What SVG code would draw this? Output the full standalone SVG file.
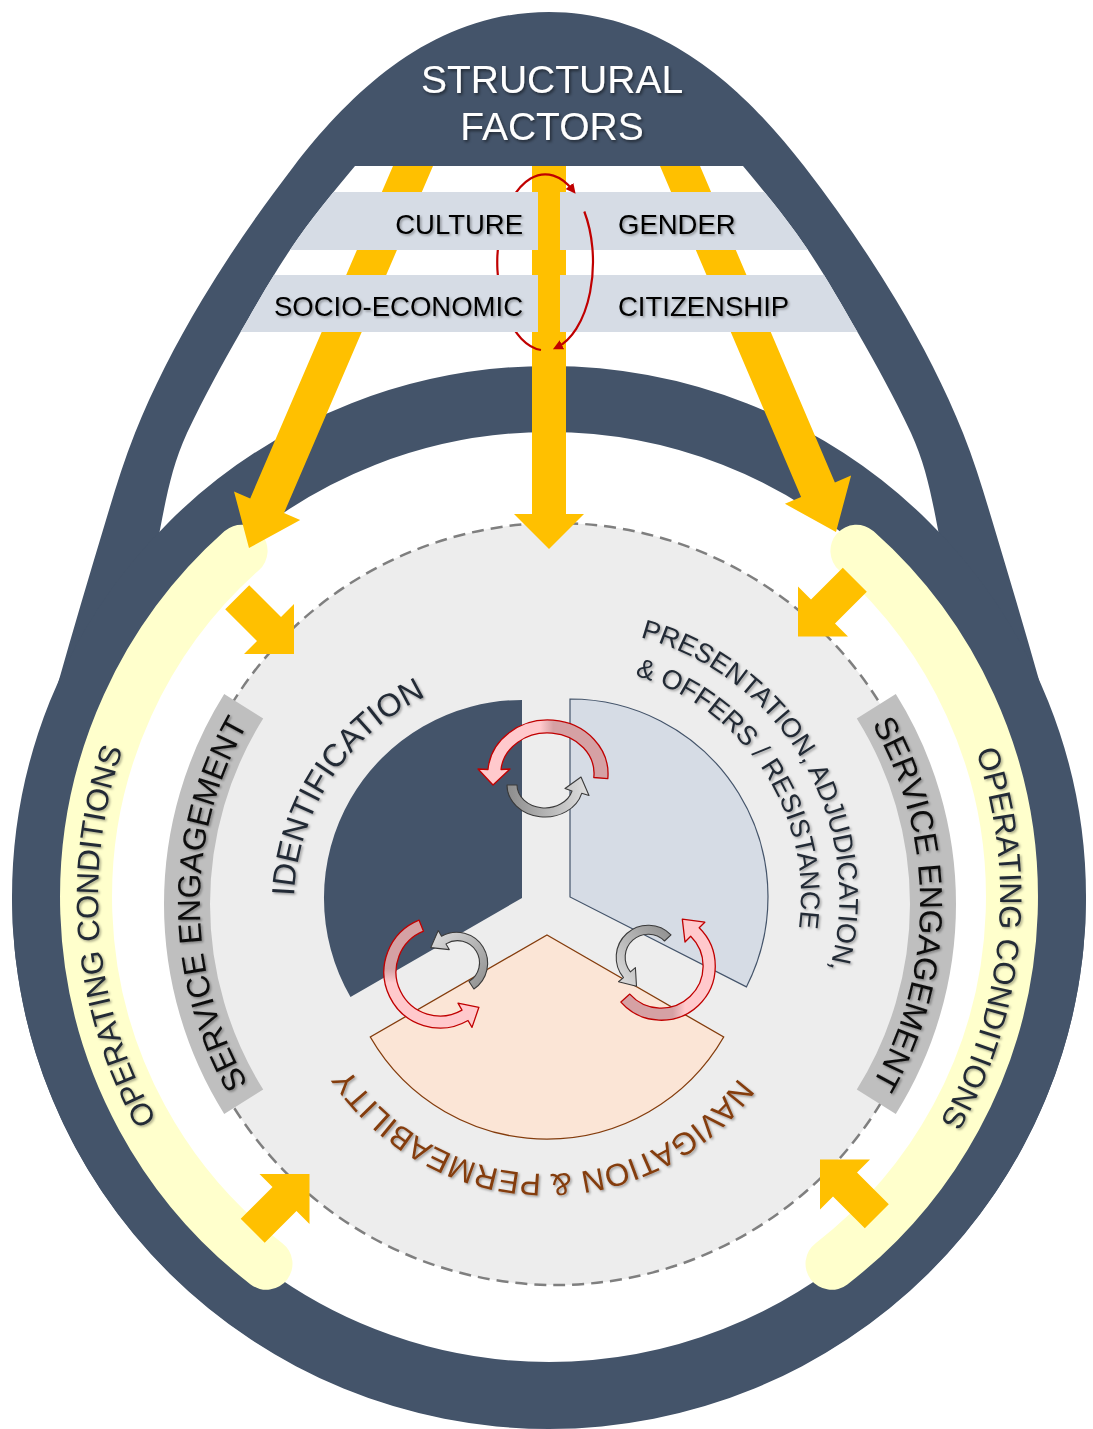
<svg xmlns="http://www.w3.org/2000/svg" width="1093" height="1429" viewBox="0 0 1093 1429">
<defs>
<style>
.f{font-family:'Liberation Sans',Arial,Helvetica,sans-serif}
.dark{fill:#44546A}
.y{fill:#FFC000}
.bar{fill:#D6DCE5}
.bt{font-size:27.5px;fill:#000}
.ring{fill:#fff;stroke:#44546A;stroke-width:66}
.oc{fill:none;stroke:#FFFFCC;stroke-width:52;stroke-linecap:round}
.se{fill:none;stroke:#BFBFBF;stroke-width:46}
.t-se{font-size:32px;fill:#0D0D0D}
.t-oc{font-size:31px;fill:#222A35}
.t-sec{fill:#222A35}
.red{stroke:#C00000;stroke-width:1.3;stroke-linejoin:round}
.gry{stroke:#3A3A3A;stroke-width:1.1;stroke-linejoin:round}
.loop{fill:none;stroke:#C00000;stroke-width:2.2}
</style>
<filter id="sh" x="-10%" y="-10%" width="120%" height="130%"><feDropShadow dx="1.5" dy="1.5" stdDeviation="1.2" flood-color="#000" flood-opacity="0.35"/></filter>
<filter id="shw" x="-10%" y="-10%" width="120%" height="130%"><feDropShadow dx="1.5" dy="2" stdDeviation="1.5" flood-color="#000" flood-opacity="0.5"/></filter>
<clipPath id="innerClip"><path d="M355,166 L743,166 C763,190 788,220 808,250 C828,280 840,302 858,333 C878,368 893,395 911,433 C928,470 933,505 941,545 L549,900 L157,545 C165,505 170,470 187,433 C205,395 220,368 240,333 C258,302 270,280 290,250 C310,220 335,190 355,166 Z"/></clipPath>
<marker id="mr" viewBox="0 0 10 10" refX="5" refY="5" markerWidth="10" markerHeight="10" markerUnits="userSpaceOnUse" orient="auto"><path d="M0,0 L10,5 L0,10 Z" fill="#C00000"/></marker>
<linearGradient id="gRedTop" x1="0" y1="0" x2="1" y2="0"><stop offset="0" stop-color="#FFC9CC"/><stop offset=".48" stop-color="#FFC9CC"/><stop offset=".58" stop-color="#D5A1A4"/><stop offset="1" stop-color="#D5A1A4"/></linearGradient>
<linearGradient id="gRedLL" x1="0" y1="0" x2="0" y2="1"><stop offset="0" stop-color="#D5A1A4"/><stop offset=".45" stop-color="#D5A1A4"/><stop offset=".58" stop-color="#FFC9CC"/><stop offset="1" stop-color="#FFC9CC"/></linearGradient>
<linearGradient id="gRedLR" x1="0" y1="0" x2="1" y2="0"><stop offset="0" stop-color="#D5A1A4"/><stop offset=".55" stop-color="#D5A1A4"/><stop offset=".68" stop-color="#FFC9CC"/><stop offset="1" stop-color="#FFC9CC"/></linearGradient>
<linearGradient id="gGrTop" x1="0" y1="0" x2="1" y2="0"><stop offset="0" stop-color="#8C8C8C"/><stop offset="1" stop-color="#E0E0E0"/></linearGradient>
<linearGradient id="gGrLL" x1="0" y1="0" x2="1" y2="1"><stop offset="0" stop-color="#E0E0E0"/><stop offset="1" stop-color="#8C8C8C"/></linearGradient>
<linearGradient id="gGrLR" x1="1" y1="0" x2="0" y2="1"><stop offset="0" stop-color="#8C8C8C"/><stop offset="1" stop-color="#E0E0E0"/></linearGradient>
<path id="pOCL" d="M291.9,1267.5 A451,451 0 0 1 228.7,579.5"/>
<path id="pOCR" d="M870.7,580.9 A451,451 0 0 1 804.4,1268.7"/>
<path id="pSEL" d="M305.4,1158.6 A360,360 0 0 1 305.4,649.4"/>
<path id="pSER" d="M814.6,649.4 A360,360 0 0 1 814.6,1158.6"/>
<path id="pID" d="M415.1,1108.2 A231,231 0 1 1 668.5,724"/>
<path id="pPR1" d="M416.9,675.9 A269,269 0 1 1 682.4,1141.4"/>
<path id="pPR2" d="M427.8,715 A231,231 0 1 1 678.5,1101"/>
<path id="pNAV" d="M783.4,899.7 A239,239 0 1 1 312.8,887.3"/>
</defs>
<rect width="1093" height="1429" fill="#fff"/>

<g id="structural-frame">
<path class="dark" d="M549,12 C434,12 352,91 294,166 C259.4,211 229,255 202,300 C175.6,344 152.6,389 135,433 C123.4,462 114.7,491 106,520 C89.2,576 72.7,631 57,687 L12,897 A537,532 0 0 0 1086,897 L1041,687 C1025.3,631 1008.8,576 992,520 C983.3,491 974.6,462 963,433 C945.4,389 922.4,344 896,300 C869,255 838.6,211 804,166 C746,91 664,12 549,12 Z"/>
<path fill="#fff" d="M355,166 L743,166 C763,190 788,220 808,250 C828,280 840,302 858,333 C878,368 893,395 911,433 C928,470 933,505 941,545 L549,900 L157,545 C165,505 170,470 187,433 C205,395 220,368 240,333 C258,302 270,280 290,250 C310,220 335,190 355,166 Z"/>
</g>

<g id="outer-ring">
<ellipse class="ring" cx="549" cy="897" rx="504" ry="498"/>
</g>

<g id="operating-conditions">
<path class="oc" d="M266.5,1263.8 A463,463 0 0 1 241.6,550.8"/>
<path class="oc" d="M856.4,550.8 A463,463 0 0 1 831.5,1263.8"/>
</g>

<g id="service-area">
<circle cx="556" cy="904" r="381" fill="#EDEDED" stroke="#7F7F7F" stroke-width="2.5" stroke-dasharray="12 7"/>
</g>

<g id="service-engagement">
<path class="se" d="M243.7,1101.7 A373,373 0 0 1 243.7,706.3"/>
<path class="se" d="M876.3,706.3 A373,373 0 0 1 876.3,1101.7"/>
<text class="f t-se" filter="url(#sh)"><textPath href="#pSEL" startOffset="50%" text-anchor="middle">SERVICE ENGAGEMENT</textPath></text>
<text class="f t-se" filter="url(#sh)"><textPath href="#pSER" startOffset="50%" text-anchor="middle">SERVICE ENGAGEMENT</textPath></text>
</g>

<g id="identification">
<path fill="#44546A" d="M522,898 L350.5,997 A198,198 0 0 1 522,700 Z"/>
<text class="f t-sec" font-size="32" filter="url(#sh)"><textPath href="#pID" startOffset="50%" text-anchor="middle">IDENTIFICATION</textPath></text>
</g>

<g id="presentation">
<path fill="#D6DCE5" stroke="#44546A" stroke-width="1.2" d="M570,897 L570,699 A198,198 0 0 1 746.4,986.9 Z"/>
<text class="f t-sec" font-size="27" filter="url(#sh)"><textPath href="#pPR1" startOffset="50%" text-anchor="middle">PRESENTATION, ADJUDICATION,</textPath></text>
<text class="f t-sec" font-size="27" filter="url(#sh)"><textPath href="#pPR2" startOffset="50%" text-anchor="middle">&amp; OFFERS / RESISTANCE</textPath></text>
</g>

<g id="navigation">
<path fill="#FBE5D6" stroke="#843C0C" stroke-width="1.3" d="M547,935 L723.7,1037 A204,204 0 0 1 370.3,1037 Z"/>
<text class="f" font-size="31.5" fill="#843C0C" filter="url(#sh)"><textPath href="#pNAV" startOffset="50%" text-anchor="middle">NAVIGATION &amp; PERMEABILITY</textPath></text>
</g>

<g id="connectors">
<g id="cycle-arrows">
<path class="red" fill="url(#gRedTop)" d="M607.8,778.7 A60,54 0 0 0 488,769.5 L478,769 L493,785 L510,769 L501,769.5 A46,40 0 0 1 593.8,777.5 Z"/>
<path class="gry" fill="url(#gGrTop)" d="M507,785 A38,32 0 0 0 581.7,793.3 L589,795.5 L581,777 L565,788.5 L572,791 A28,23 0 0 1 517,785 Z"/>
<path class="red" fill="url(#gRedLL)" d="M419,920.1 A56,56 0 1 0 468,1020.5 L472,1027.4 L478.9,1007.3 L458,1003.2 L462,1010.1 A44,44 0 1 1 423.5,931.2 Z"/>
<path class="gry" fill="url(#gGrLL)" d="M473.9,989 A31,31 0 0 0 441.5,936.2 L438.25,930.5 L430.8,947.6 L449.25,949.6 L446,943.9 A22,22 0 0 1 469,981.5 Z"/>
<path class="red" fill="url(#gRedLR)" d="M620.9,1002.1 A54,54 0 1 0 699.2,927.8 L704.8,922.2 L682.3,919.2 L685,942 L690.7,936.3 A42,42 0 1 1 629.8,994.1 Z"/>
<path class="gry" fill="url(#gGrLR)" d="M671,934.8 A32,32 0 0 0 623.5,977.6 L618.5,981.7 L636.5,986.2 L635.4,967.6 L630.4,971.8 A23,23 0 0 1 664.5,941 Z"/>
</g>
<g id="structural-arrows">
<polygon class="y" points="393,166 433,166 284,513 300.2,519.9 249,548 234,491.5 250.2,498.4"/>
<polygon class="y" points="660,166 700,166 834.9,482.5 851.1,475.6 836,532 784.9,503.8 801.1,496.9"/>
<polygon class="y" points="532,166 566,166 566,514 584,514 549,549 514,514 532,514"/>
</g>
<g id="operating-arrows">
<polygon class="y" points="249.2,585.2 281,617 294,604 294,654 244,654 257,641 225.2,609.2"/>
<polygon class="y" points="842.8,567.7 811,599.5 798,586.5 798,636.5 848,636.5 835,623.5 866.8,591.7"/>
<polygon class="y" points="240.7,1218.8 272.5,1187 259.5,1174 309.5,1174 309.5,1224 296.5,1211 264.7,1242.8"/>
<polygon class="y" points="888.8,1204.3 857,1172.5 870,1159.5 820,1159.5 820,1209.5 833,1196.5 864.8,1228.3"/>
</g>
</g>

<g id="factor-gender" clip-path="url(#innerClip)">
<rect class="bar" x="560" y="192" width="400" height="58"/>
<text class="f bt" x="618" y="234" filter="url(#sh)">GENDER</text>
</g>
<g id="factor-citizenship" clip-path="url(#innerClip)">
<rect class="bar" x="560" y="275" width="400" height="57"/>
<text class="f bt" x="618" y="316" filter="url(#sh)">CITIZENSHIP</text>
</g>

<g id="factor-interaction">
<path class="loop" d="M541,350 A48,88 0 1 1 572.5,189.9" marker-end="url(#mr)"/>
<path class="loop" d="M584.3,211.5 A48,88 0 0 1 557.4,347" marker-end="url(#mr)"/>
</g>

<g id="factor-culture" clip-path="url(#innerClip)">
<rect class="bar" x="140" y="192" width="398" height="58"/>
<text class="f bt" x="523" y="234" text-anchor="end" filter="url(#sh)">CULTURE</text>
</g>
<g id="factor-socio-economic" clip-path="url(#innerClip)">
<rect class="bar" x="140" y="275" width="398" height="57"/>
<text class="f bt" x="523" y="316" text-anchor="end" filter="url(#sh)">SOCIO-ECONOMIC</text>
</g>

<g id="operating-conditions-labels">
<text class="f t-oc" filter="url(#sh)"><textPath href="#pOCL" startOffset="50%" text-anchor="middle">OPERATING CONDITIONS</textPath></text>
<text class="f t-oc" filter="url(#sh)"><textPath href="#pOCR" startOffset="50%" text-anchor="middle">OPERATING CONDITIONS</textPath></text>
</g>

<g id="structural-factors">
<text class="f" font-size="39" fill="#fff" text-anchor="middle" filter="url(#shw)"><tspan x="552" y="93">STRUCTURAL</tspan><tspan x="552" y="140">FACTORS</tspan></text>
</g>
</svg>
